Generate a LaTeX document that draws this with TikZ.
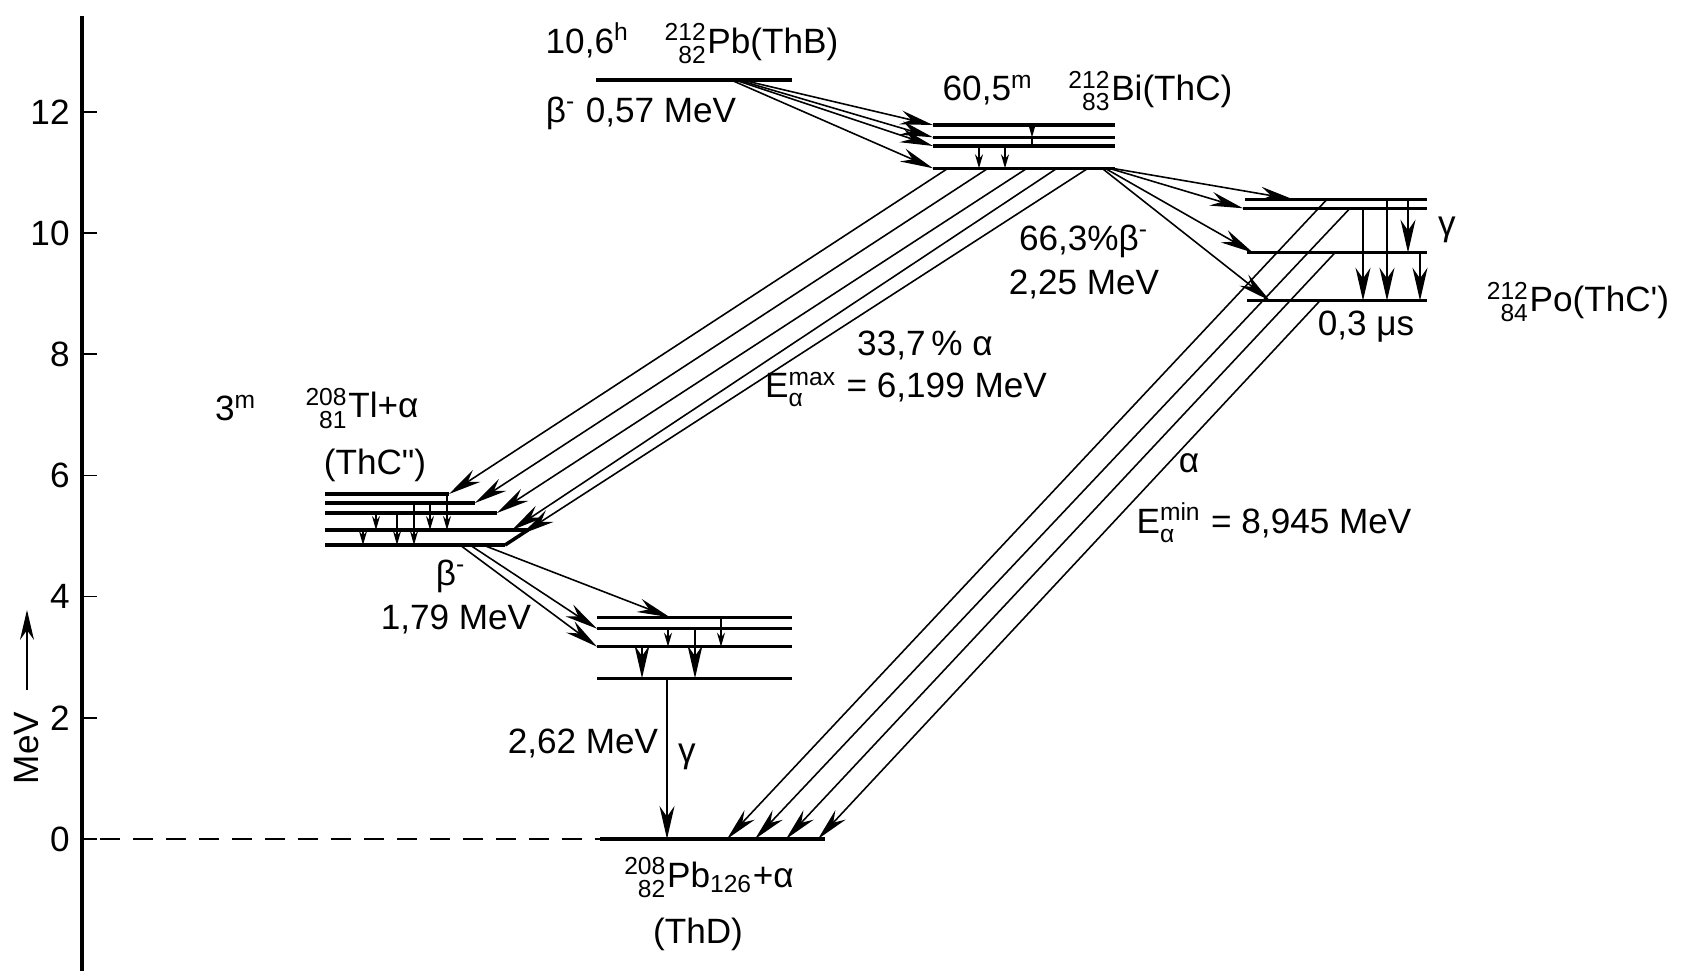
\documentclass[tikz,border=0pt]{standalone}
\usepackage{amsmath}
\usepackage{fontspec}
\setmainfont{Liberation Sans}
\usetikzlibrary{arrows.meta}

% nuclide: mass and charge number stacked on the left
\newcommand{\nuc}[2]{$^{\text{#1}}_{\text{\phantom{0}#2}}$}

\begin{document}
\begin{tikzpicture}[x=1cm, y=0.606cm, font=\fontsize{10}{12}\selectfont,
  level/.style={line width=1pt},
  trans/.style={line width=0.45pt},
  decay/.style={trans, -{Stealth[length=3.3mm, width=1.4mm]}},
  gam/.style={trans, -{Stealth[length=3.3mm, width=1.5mm]}},
  smallgam/.style={trans, -{Stealth[length=1.4mm, width=0.8mm]}},
  tight/.style={inner sep=0.5pt}]
\useasboundingbox (0,-2.261) rectangle (16.83,13.845);

% ---------- energy axis ----------
\draw[line width=0.9pt] (0.82,13.58) coordinate (axtop) -- (0.82,-2.18) coordinate (axbot);
\foreach \e in {0,2,...,12}{
  \draw[trans] (0.82,\e) -- (0.97,\e);
  \node[anchor=east] (tick\e) at (0.82,\e) {\e};}
\node[rotate=90] (unit) at (0.27,1.50) {MeV};
\coordinate (unittop) at (0.27,3.78);
\draw[trans, -{Stealth[length=3mm, width=1.4mm]}, shorten <=1mm] (unit.east) -- (unittop);
\coordinate (dash0) at (1.00,0);

% ---------- 212Pb (ThB) ----------
\draw[level] (5.96,12.525) coordinate (pb) -- (7.92,12.525);
\node (pbname) at (6.92,13.135) {10,6\textsuperscript{h}\quad\nuc{212}{82}Pb(ThB)};
\node (pbbeta) at (6.41,11.98) {β\textsuperscript{-}\ 0,57 MeV};

% ---------- 212Bi (ThC) ----------
\foreach \n/\e in {1/11.782, 2/11.579, 3/11.436, 4/11.068}{
  \draw[level] (9.33,\e) coordinate (bi\n) -- (11.15,\e);}
\node (biname) at (10.875,12.343) {60,5\textsuperscript{m}\quad\nuc{212}{83}Bi(ThC)};
\foreach \n/\x in {1/7.42, 2/7.38, 3/7.35, 4/7.31}{
  \coordinate (pbs\n) at (\x,12.525);
  \draw[decay] (pbs\n) -- (bi\n);}
\draw[smallgam] (9.79,11.436) -- (9.79,11.068);
\draw[smallgam] (10.05,11.436) -- (10.05,11.068);
\draw[smallgam] (10.32,11.782) -- (10.32,11.579);
\draw[trans] (10.32,11.579) -- (10.32,11.436);

% ---------- 208Tl (ThC'') ----------
\foreach \n/\e/\r in {1/5.693/4.49, 2/5.545/4.75, 3/5.380/4.97, 4/5.099/5.28, 5/4.851/5.05}{
  \draw[level] (3.25,\e) coordinate (tl\n) -- (\r,\e) coordinate (tlend\n);}
\draw[level] (tlend5) -- (tlend4);
\node (tlhalf) at (2.36,7.11) {3\textsuperscript{m}};
\node (tlname) at (3.62,7.11) {\nuc{208}{81}Tl+α};
\node (tlthc) at (3.75,6.17) {(ThC\textquotedbl)};
\foreach \n/\x/\tx/\te in {1/9.48/4.49/5.693, 2/9.88/4.75/5.545, 3/10.27/4.97/5.380,
                           4/10.57/5.12/5.099, 5/10.88/5.22/5.034}{
  \coordinate (bia\n) at (\x,11.068);
  \coordinate (tla\n) at (\tx,\te);
  \draw[decay] (bia\n) -- (tla\n);}
\node[tight] (alname) at (9.25,8.14) {33,7\,\% α};
\node[tight] (alemax) at (9.06,7.42) {E$^{\text{max}}_{\text{α}}$ = 6,199 MeV};
\foreach \x/\a/\b in {3.63/5.099/4.851, 3.76/5.380/5.099, 3.97/5.380/4.851,
                      4.14/5.545/4.851, 4.30/5.545/5.099, 4.47/5.693/5.099}{
  \draw[smallgam] (\x,\a) -- (\x,\b);}

% ---------- 208Pb excited states ----------
\foreach \n/\e in {1/3.658, 2/3.470, 3/3.173, 4/2.652}{
  \draw[level] (5.97,\e) coordinate (pe\n) -- (7.92,\e);}
\foreach \n/\x/\tx/\te in {1/4.83/6.70/3.658, 2/4.70/5.97/3.470, 3/4.60/5.97/3.173}{
  \coordinate (tlb\n) at (\x,4.851);
  \coordinate (peb\n) at (\tx,\te);
  \draw[decay] (tlb\n) -- (peb\n);}
\node (tlbeta) at (4.51,4.34) {β\textsuperscript{-}};
\node (tlbetaE) at (4.56,3.63) {1,79 MeV};
\draw[gam] (6.42,3.173) -- (6.42,2.652);
\draw[smallgam] (6.68,3.470) -- (6.68,3.173);
\draw[gam] (6.95,3.470) -- (6.95,2.652);
\draw[smallgam] (7.21,3.658) -- (7.21,3.173);

% ---------- ground state 208Pb ----------
\draw[line width=1.4pt] (6.00,0) coordinate (gs) -- (8.25,0) coordinate (gsend);
\draw[trans, dash pattern=on 2mm off 1.3mm] (dash0) -- (gs);
\coordinate (pe4g) at (6.67,2.652);
\coordinate (gsg) at (6.67,0);
\draw[gam] (pe4g) -- (gsg);
\node (gE) at (5.83,1.584) {2,62 MeV};
\node (gsym) at (6.87,1.353) {γ};
\node (gsname) at (7.09,-0.64) {\nuc{208}{82}Pb\textsubscript{126}+α};
\node (gsthd) at (6.98,-1.57) {(ThD)};

% ---------- 212Po (ThC') ----------
\foreach \n/\e/\l in {1/10.556/12.45, 2/10.408/12.43, 3/9.675/12.47, 4/8.883/12.47}{
  \draw[level] (\l,\e) coordinate (po\n) -- (14.27,\e);}
\foreach \n/\x/\tx/\te in {1/11.12/12.93/10.556, 2/11.09/12.43/10.408,
                           3/11.05/12.53/9.675, 4/11.02/12.70/8.883}{
  \coordinate (bib\n) at (\x,11.068);
  \coordinate (pob\n) at (\tx,\te);
  \draw[decay] (bib\n) -- (pob\n);}
\foreach \x/\a/\b in {13.63/10.408/8.883, 13.87/10.556/8.883, 14.08/10.556/9.675, 14.20/9.675/8.883}{
  \draw[gam] (\x,\a) -- (\x,\b);}
\node (bibeta) at (10.84,9.868) {66,3\%β\textsuperscript{-}};
\node (bibetaE) at (10.84,9.158) {2,25 MeV};
\node (pogam) at (14.47,10.05) {γ};
\node (poname) at (15.78,8.86) {\nuc{212}{84}Po(ThC\textquotesingle)};
\node (pohalf) at (13.66,8.449) {0,3 μs};
\foreach \n/\x/\e/\tx in {1/13.27/10.556/7.27, 2/13.50/10.408/7.55,
                          3/13.35/9.675/7.86, 4/13.20/8.883/8.18}{
  \coordinate (poa\n) at (\x,\e);
  \coordinate (gsa\n) at (\tx,0);
  \draw[decay] (poa\n) -- (gsa\n);}
\node[tight] (poal) at (11.89,6.20) {α};
\node[tight] (poemin) at (12.74,5.22) {E$^{\text{min}}_{\text{α}}$ = 8,945 MeV};
\end{tikzpicture}
\end{document}
